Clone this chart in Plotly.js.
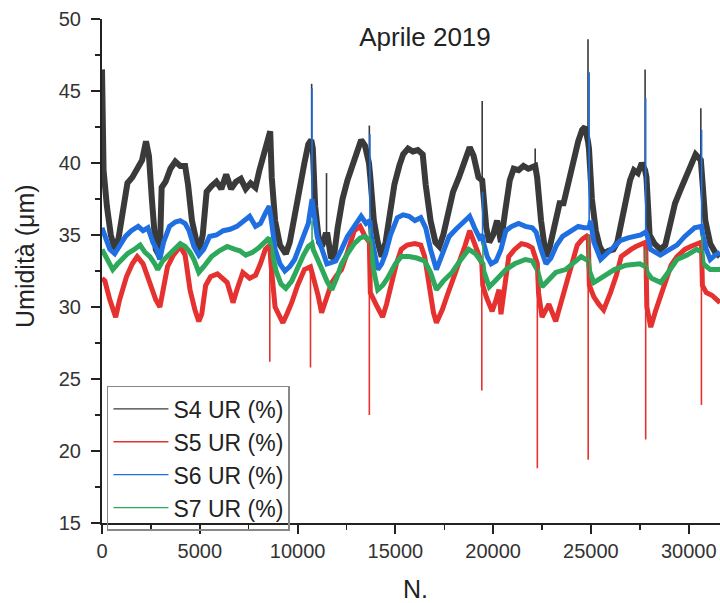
<!DOCTYPE html>
<html>
<head>
<meta charset="utf-8">
<script src="https://cdn.plot.ly/plotly-3.0.1.min.js"></script>
<style>html,body{margin:0;padding:0;background:#fff;}#chart{width:720px;height:603px;}</style>
</head>
<body>
<div id="chart"></div>
<script>
// ---- data ----
const seriesNames = ["S4 UR (%)", "S5 UR (%)", "S6 UR (%)", "S7 UR (%)"];
const seriesColors = ["#3a3a3a", "#e5312f", "#1f6fe0", "#2ea85a"];

// main course of each series: [N, value]
const s4 = [[0,46.5],[80,39.5],[250,37],[450,35],[650,34],[850,34.8],[1050,36.5],[1300,38.6],[1550,39],[1800,39.6],[2050,40.2],[2250,41.5],[2400,40.5],[2550,37.5],[2750,34],[2950,33.5],[3050,38.3],[3250,38.7],[3500,39.6],[3750,40.1],[4000,39.8],[4250,39.8],[4400,38.5],[4600,36],[4800,34.5],[4950,33.8],[5150,35],[5350,38],[5600,38.4],[5850,38.7],[6100,38.2],[6350,39.2],[6600,38.2],[6850,38.7],[7100,38.9],[7350,38.2],[7600,38.6],[7850,38.3],[8050,39.5],[8300,40.8],[8500,41.8],[8600,42.2],[8680,39],[8850,36],[9100,34.3],[9400,33.7],[9600,34.5],[9850,36.5],[10100,38.3],[10350,40],[10550,41.3],[10700,41.6],[10780,41],[10900,37],[11100,34.5],[11250,34.2],[11420,35],[11530,35],[11700,33.5],[11850,33.4],[12050,35.5],[12300,37.5],[12550,38.8],[12800,39.8],[13050,40.8],[13250,41.6],[13450,41.2],[13650,40],[13720,39],[13900,36],[14100,34.5],[14300,33.5],[14500,34.5],[14700,36.5],[14950,38.5],[15200,39.8],[15400,40.6],[15650,41],[15900,40.8],[16150,40.9],[16400,40.6],[16550,38.5],[16800,36],[17050,34.5],[17250,34.2],[17450,35],[17700,36.5],[17950,38],[18250,39],[18550,40],[18800,41.1],[19000,40.5],[19250,39],[19440,38.8],[19480,38],[19650,35.5],[19800,34.5],[20000,35],[20200,36],[20400,34.5],[20600,36.5],[20850,38.8],[21050,39.6],[21300,39.5],[21550,39.8],[21800,39.6],[22150,39.8],[22250,39],[22450,36],[22700,33.5],[22900,34.2],[23150,35.5],[23400,37.2],[23600,37.2],[23850,38.8],[24100,40.3],[24350,41.5],[24550,42.3],[24700,42.5],[24850,41.5],[24900,41],[25050,37.5],[25250,35.3],[25450,34.2],[25650,33.7],[25900,33.9],[26150,34],[26350,34.5],[26550,36],[26750,37.5],[27000,38.8],[27200,39.5],[27400,39.3],[27600,40],[27770,39.5],[27840,39],[28000,35],[28250,34.4],[28550,34],[28800,34.3],[29000,35.5],[29300,37.2],[29600,38.2],[29900,39.2],[30150,40],[30350,40.6],[30620,40.2],[30680,39],[30850,36],[31100,34.4],[31350,33.8],[31600,33.5]];

const s5 = [[0,32],[150,31.8],[400,30.5],[560,29.8],[700,29.3],[900,30.5],[1250,32.1],[1550,33],[1800,33.5],[2100,33],[2450,31.7],[2750,30.5],[2960,30],[3150,31.5],[3350,32.8],[3650,33.6],[4000,34.2],[4250,33.6],[4500,31.2],[4750,29.8],[4950,29],[5100,29.5],[5300,31.5],[5550,32.1],[5900,32.3],[6150,32],[6400,31.7],[6600,30.8],[6700,30.3],[6900,31.2],[7200,32.4],[7550,32],[7850,32.2],[8100,33],[8350,34],[8580,34.3],[8640,33],[8850,30],[9100,29.3],[9250,28.9],[9450,29.5],[9700,30.3],[10000,31.5],[10350,32.6],[10660,32.8],[10720,32.5],[10870,31.7],[11050,30.8],[11230,29.6],[11450,30.5],[11750,31.7],[12000,32.2],[12250,32.6],[12550,33.8],[12900,35.3],[13200,35.6],[13450,34.9],[13670,34.5],[13720,31],[14080,30],[14350,29.3],[14550,30.2],[14800,31.7],[15050,33],[15300,34],[15600,34.3],[16000,34.4],[16300,34.3],[16500,33.5],[16750,31.2],[16950,29.6],[17100,28.9],[17400,29.8],[17650,30.8],[17900,31.7],[18250,33.2],[18550,34.2],[18800,35.3],[19050,34.5],[19300,33.5],[19420,33],[19470,31.5],[19650,30.7],[19950,29.7],[20150,30.5],[20300,31.2],[20400,29.5],[20600,31.5],[20800,33.5],[21100,34],[21450,34.4],[21750,34.3],[22000,34.1],[22260,33],[22320,31],[22500,29.3],[22850,30.2],[23200,29],[23500,30.5],[23750,31.5],[24000,33],[24300,34.3],[24550,34.7],[24860,35],[24920,31.5],[25150,30.7],[25400,30.2],[25650,29.8],[26000,31],[26300,32.2],[26550,33.5],[26800,33.8],[27050,34],[27300,34.2],[27550,34.4],[27800,34.5],[27860,30],[27960,29.3],[28060,28.6],[28300,29.7],[28570,30.7],[28870,32],[29100,32.9],[29400,33.5],[29800,34],[30100,34.2],[30400,34.4],[30650,34.5],[30700,31.5],[30900,31],[31200,30.8],[31600,30.3]];

const s6 = [[0,35.5],[150,35],[400,34],[650,33.7],[900,34.3],[1200,34.9],[1500,35.3],[1850,35.6],[2100,35.3],[2350,35.5],[2600,34.5],[2800,34],[2950,33.3],[3150,34.5],[3450,35.6],[3750,35.9],[4000,36],[4250,35.8],[4450,35.3],[4700,34.2],[4950,33.6],[5200,34],[5500,34.9],[5850,35],[6200,35.3],[6550,35.4],[6900,35.6],[7200,35.9],[7550,36.3],[7850,35.6],[8100,35.8],[8350,36.5],[8550,37],[8680,35.8],[8850,34],[9100,33],[9350,32.5],[9600,32.8],[9850,33.3],[10100,34.2],[10350,35],[10550,35.8],[10740,37.5],[10800,37],[11000,34.9],[11250,34],[11500,33],[11750,33.1],[11950,33.2],[12250,34],[12550,34.9],[12900,35.6],[13250,36.3],[13500,35.8],[13700,36],[13760,35],[13950,33.5],[14100,32.6],[14300,33],[14500,33.7],[14750,35],[15100,36.2],[15400,36.4],[15700,36.3],[16000,36],[16300,36.2],[16550,35.5],[16800,34],[17100,32.6],[17350,33.5],[17750,34.9],[18100,35.4],[18450,35.8],[18800,36.3],[19050,35.5],[19300,34.8],[19460,35],[19500,34.5],[19700,33.5],[19900,33],[20150,33.2],[20400,34],[20650,35.3],[20950,35.6],[21300,35.8],[21650,35.6],[22000,35.5],[22200,35.2],[22450,34],[22700,33],[22950,33.4],[23250,34.3],[23550,34.9],[23750,35.1],[24050,35.4],[24350,35.6],[24650,35.5],[24910,35.5],[24980,36],[25150,34.5],[25500,33.3],[26000,33.9],[26500,34.6],[26900,34.8],[27300,34.9],[27550,35],[27800,35.2],[27870,35],[28050,34],[28550,33.6],[28900,33.9],[29400,34.3],[29800,34.9],[30300,35.5],[30660,35.6],[30720,35],[30900,34],[31100,33.3],[31350,33.6],[31600,33.8]];

const s7 = [[0,34],[200,33.5],[550,32.6],[800,33],[1100,33.5],[1300,33.7],[1650,34],[1950,34.3],[2200,33.8],[2450,33.5],[2700,33],[2850,32.6],[3100,33.2],[3450,33.7],[3750,34.1],[4000,34.4],[4250,34.2],[4500,33.8],[4700,33.3],[4950,32.4],[5200,32.8],[5600,33.5],[6000,33.9],[6400,34.2],[6800,34],[7050,33.9],[7350,33.6],[7700,33.8],[8000,34.1],[8300,34.5],[8550,34.8],[8700,33.8],[8900,32.5],[9150,31.6],[9400,31.3],[9700,31.8],[10000,32.8],[10300,33.6],[10550,34.2],[10740,34.4],[10800,34],[11000,33.3],[11250,32.6],[11500,31.8],[11750,31.2],[12000,32],[12250,33],[12600,33.8],[12900,34.4],[13200,34.8],[13450,34.9],[13700,34.6],[13750,34],[13900,32.5],[14100,31.2],[14350,31.5],[14600,32],[15000,33],[15300,33.5],[15700,33.5],[16100,33.4],[16500,33.2],[16800,32.4],[17100,31.2],[17450,31.8],[17900,32.4],[18300,33.2],[18750,34],[19100,33.7],[19300,33.3],[19480,33],[19520,32.5],[19800,31.4],[20100,31.8],[20650,32.6],[21100,33],[21650,33.3],[22000,33.2],[22250,32.6],[22500,31.4],[22800,31.8],[23200,32.4],[23700,32.6],[24100,33],[24500,33.5],[24870,33.2],[24930,32.5],[25150,31.7],[25500,32],[26200,32.6],[26800,32.9],[27500,33],[27800,32.8],[27880,32.4],[28100,32],[28570,31.7],[29000,32.5],[29400,33.3],[29900,33.6],[30400,34],[30680,33.8],[30740,33],[31100,32.6],[31600,32.6]];

// sharp spikes: [N, value at base, value at tip]
const s4Spikes = [[10720,41.5,45.5],[11480,35,39.3],[13670,40,42.6],[19440,38.8,44.3],[22150,39.8,41],[24850,41.5,48.6],[27770,39.8,46.5],[30620,40.2,43.8]];
const s5Spikes = [[8580,34.3,26.2],[10660,32.8,25.8],[13670,34.5,22.5],[19420,33,24.2],[22260,33,18.8],[24860,35,19.4],[27800,34.5,20.8],[30650,34.5,23.2]];
const s6Spikes = [[10740,37.5,45.2],[13700,36,42],[19460,35,38],[24910,35.5,46.3],[27800,35.2,44.5],[30660,35.6,42.3]];
const s7Spikes = [[10740,34.4,36],[13700,34.6,35.5],[19480,33,34.5],[24870,33.2,35],[27800,32.8,34],[30680,33.8,35]];

const xTicks = [0, 5000, 10000, 15000, 20000, 25000, 30000];
const yTicks = [15, 20, 25, 30, 35, 40, 45, 50];

// ---- build traces ----
const allSeries = [s4, s5, s6, s7];
const allSpikes = [s4Spikes, s5Spikes, s6Spikes, s7Spikes];
const mainWidths = [6, 5, 5, 5];
const traces = [];
// legend entries (thin lines) come first
seriesNames.forEach((nm, i) => {
  traces.push({
    x: [null], y: [null], type: 'scatter', mode: 'lines', name: nm,
    line: {color: seriesColors[i], width: 1.3}, showlegend: true, legendrank: i + 1
  });
});
allSeries.forEach((s, i) => {
  traces.push({
    x: s.map(p => p[0]), y: s.map(p => p[1]),
    type: 'scatter', mode: 'lines', name: seriesNames[i],
    line: {color: seriesColors[i], width: mainWidths[i]}, showlegend: false, hoverinfo: 'skip'
  });
});
allSpikes.forEach((sp, i) => {
  const xs = [], ys = [];
  sp.forEach(p => { xs.push(p[0], p[0], null); ys.push(p[1], p[2], null); });
  traces.push({
    x: xs, y: ys, type: 'scatter', mode: 'lines', connectgaps: false,
    line: {color: seriesColors[i], width: 1.6}, showlegend: false, hoverinfo: 'skip'
  });
});

const axisFont = {family: 'Liberation Sans, Arial, sans-serif', size: 20, color: '#333'};
const layout = {
  width: 720, height: 603,
  margin: {l: 102, r: 0, t: 19, b: 80},
  paper_bgcolor: '#fff', plot_bgcolor: '#fff',
  font: {family: 'Liberation Sans, Arial, sans-serif', color: '#333'},
  title: {text: 'Aprile 2019', x: 425/720, xanchor: 'center', y: 1 - 37/603, yanchor: 'middle',
          font: {size: 26, color: '#222'}},
  xaxis: {
    range: [0, 31600], tickvals: xTicks, ticktext: xTicks.map(String),
    ticks: 'outside', ticklen: 9, tickwidth: 2, tickcolor: '#222',
    showline: true, linecolor: '#222', linewidth: 2, showgrid: false, zeroline: false,
    tickfont: axisFont,
    minor: {dtick: 2500, tick0: 0, ticks: 'outside', ticklen: 5, tickwidth: 1.5, tickcolor: '#222', showgrid: false}
  },
  yaxis: {
    range: [15, 50], tickvals: yTicks, ticktext: yTicks.map(String),
    ticks: 'outside', ticklen: 9, tickwidth: 2, tickcolor: '#222',
    showline: true, linecolor: '#222', linewidth: 2, showgrid: false, zeroline: false,
    tickfont: axisFont, ticklabelstandoff: 6,
    minor: {dtick: 2.5, tick0: 15, ticks: 'outside', ticklen: 5, tickwidth: 1.5, tickcolor: '#222', showgrid: false}
  },
  annotations: [
    {text: 'Umidità (μm)', xref: 'paper', yref: 'paper', x: (25 - 102) / 618, y: (523 - 256) / 504,
     xanchor: 'center', yanchor: 'middle', textangle: -90, showarrow: false,
     font: {size: 25, color: '#222'}},
    {text: 'N.', xref: 'paper', yref: 'paper', x: (415 - 102) / 618, y: -(589 - 523) / 504,
     xanchor: 'center', yanchor: 'middle', showarrow: false,
     font: {size: 25, color: '#222'}}
  ],
  showlegend: true,
  legend: {
    x: 0.008, y: 0.272, xanchor: 'left', yanchor: 'top',
    bordercolor: '#888', borderwidth: 1.5, bgcolor: 'rgba(255,255,255,0)',
    font: {size: 23, color: '#222'}, itemwidth: 55
  }
};

Plotly.newPlot('chart', traces, layout, {displayModeBar: false, staticPlot: true});
</script>
</body>
</html>
